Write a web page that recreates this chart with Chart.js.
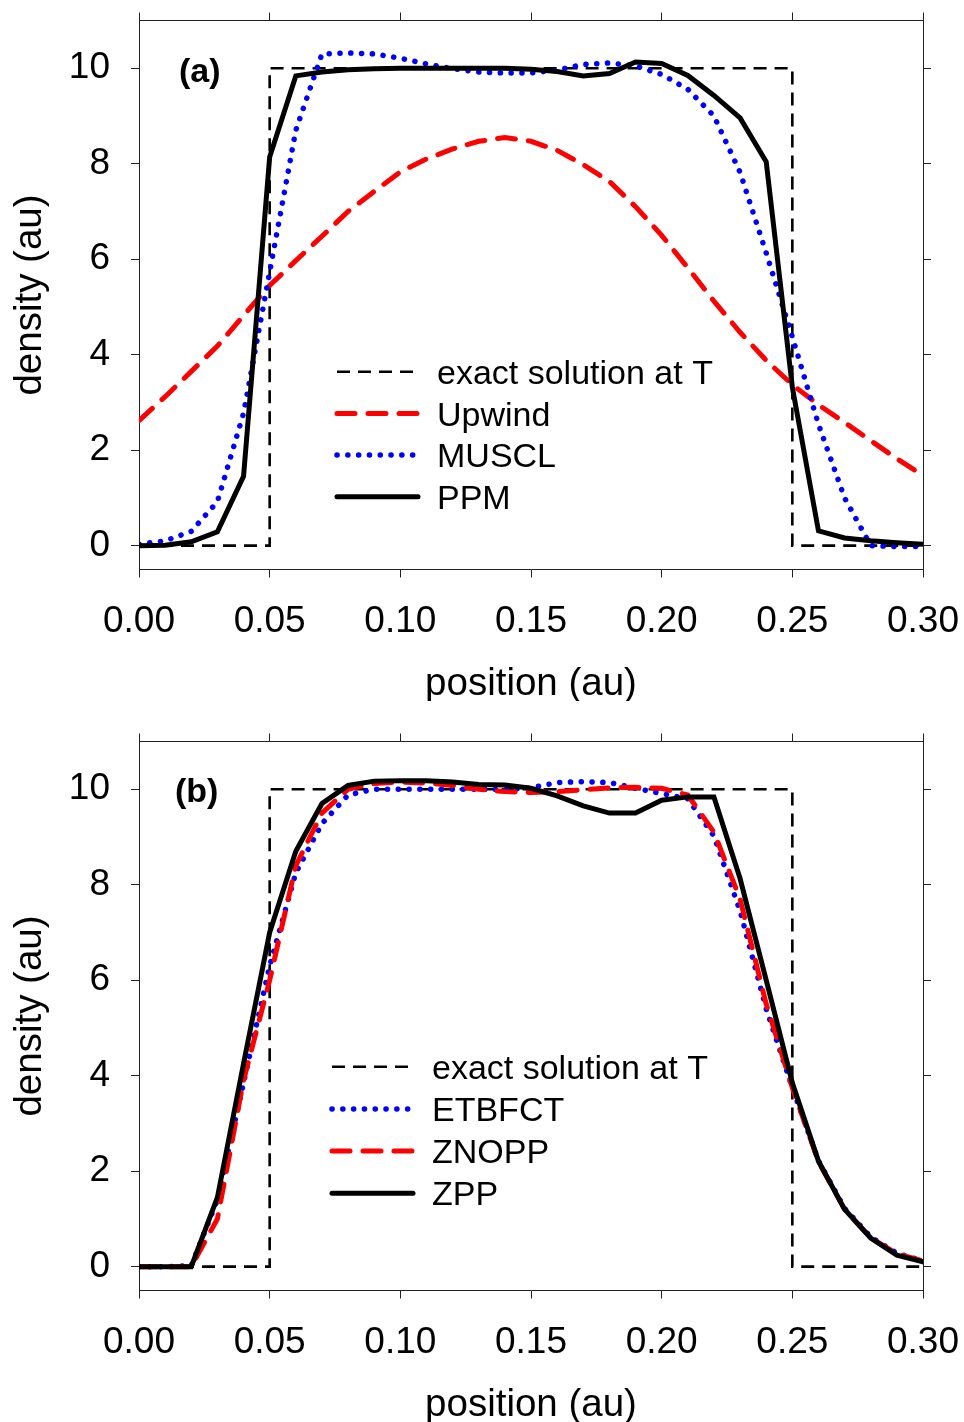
<!DOCTYPE html>
<html>
<head>
<meta charset="utf-8">
<script src="https://cdn.jsdelivr.net/npm/chart.js@4.4.0/dist/chart.umd.min.js"></script>
<style>
  html, body { margin: 0; padding: 0; background: #fff; }
  body { width: 964px; height: 1422px; position: relative; overflow: hidden; }
  .panel { position: absolute; left: 0; width: 964px; height: 701px; }
  #panel-a { top: 0; }
  #panel-b { top: 721px; }
</style>
</head>
<body>
<div class="panel" id="panel-a"><canvas id="chart-a"></canvas></div>
<div class="panel" id="panel-b"><canvas id="chart-b"></canvas></div>
<script>
// grid positions (au)
const POSITIONS = [0, 0.01, 0.02, 0.03, 0.04, 0.05, 0.06, 0.07, 0.08, 0.09, 0.10,
  0.11, 0.12, 0.13, 0.14, 0.15, 0.16, 0.17, 0.18, 0.19, 0.20,
  0.21, 0.22, 0.23, 0.24, 0.25, 0.26, 0.27, 0.28, 0.29, 0.30];

const EXACT_X = [0, 0.05, 0.05, 0.25, 0.25, 0.30];
const EXACT_Y = [0, 0, 10, 10, 0, 0];

// panel (a)
const UPWIND = [2.62, 3.12, 3.65, 4.18, 4.82, 5.45, 5.97, 6.48, 7.0, 7.42, 7.83,
  8.10, 8.31, 8.47, 8.55, 8.47, 8.28, 7.98, 7.63, 7.1, 6.5,
  5.82, 5.12, 4.47, 3.88, 3.37, 2.95, 2.58, 2.2, 1.82, 1.47];
const MUSCL = [0.03, 0.10, 0.30, 0.92, 2.77, 5.73, 8.70, 10.30, 10.32, 10.30, 10.21,
  10.09, 9.99, 9.92, 9.90, 9.90, 9.96, 10.08, 10.11, 10.05, 9.87,
  9.56, 9.0, 7.82, 6.13, 4.37, 2.54, 1.0, 0.0, -0.02, -0.02];
const PPM = [0, 0.01, 0.08, 0.29, 1.45, 8.14, 9.84, 9.92, 9.97, 9.99, 10.0,
  10.0, 10.0, 10.0, 10.0, 9.98, 9.93, 9.84, 9.89, 10.13, 10.1,
  9.85, 9.43, 8.96, 8.04, 3.32, 0.31, 0.16, 0.1, 0.06, 0.03];

// panel (b)
const ETBFCT = [0, 0, 0.02, 1.4, 3.85, 6.3, 8.25, 9.28, 9.88, 10.0, 10.0,
  10.0, 10.0, 10.0, 9.99, 10.03, 10.14, 10.16, 10.14, 10.02, 9.91,
  9.8, 9.02, 7.45, 5.4, 3.75, 2.22, 1.22, 0.62, 0.28, 0.12];
const ZNOPP = [0, 0, 0, 1.0, 3.9, 6.0, 8.4, 9.5, 10.0, 10.12, 10.15,
  10.13, 10.08, 10.0, 9.95, 9.93, 9.95, 9.99, 10.03, 10.04, 10.02,
  9.88, 9.1, 7.7, 5.5, 3.75, 2.2, 1.2, 0.6, 0.27, 0.12];
const ZPP = [0, 0, 0, 1.45, 4.25, 7.0, 8.7, 9.7, 10.08, 10.17, 10.18,
  10.18, 10.15, 10.1, 10.09, 10.02, 9.86, 9.65, 9.5, 9.5, 9.77,
  9.84, 9.84, 8.13, 6.0, 3.85, 2.21, 1.2, 0.6, 0.24, 0.1];

const X_TICKS = [0, 0.05, 0.10, 0.15, 0.20, 0.25, 0.30];
const Y_TICKS = [0, 2, 4, 6, 8, 10];

const FONT = `"Liberation Sans", Arial, sans-serif`;
const AXIS_COLOR = `#222`;

const toPoints = (xs, ys) => xs.map((x, i) => ({x, y: ys[i]}));

const exactStyle = {borderColor: `#000`, borderWidth: 2.6, borderDash: [13, 8], order: 3};
const redDash = {borderColor: `#ff0000`, borderWidth: 5, borderDash: [18, 13], borderCapStyle: `round`};
const blueDots = {borderColor: `#0000ff`, borderWidth: 5.5, borderDash: [0.1, 10.7], borderCapStyle: `round`};
const blackSolid = {borderColor: `#000`, borderWidth: 5, borderCapStyle: `round`, order: 0};

// legend drawn inside the plot, plus the panel tag
const insideLegend = {
  id: `insideLegend`,
  afterDatasetsDraw(chart, args, opts) {
    const {ctx} = chart;
    ctx.save();
    ctx.fillStyle = `#000`;
    ctx.textBaseline = `alphabetic`;
    ctx.font = `${opts.fontSize}px ${FONT}`;
    chart.data.datasets.forEach((ds, i) => {
      const y = opts.y + i * opts.rowHeight;
      ctx.beginPath();
      ctx.setLineDash(ds.borderDash || []);
      ctx.lineWidth = ds.borderWidth;
      ctx.strokeStyle = ds.borderColor;
      ctx.lineCap = ds.borderCapStyle || `butt`;
      ctx.moveTo(opts.x, y);
      ctx.lineTo(opts.x + opts.lineLength, y);
      ctx.stroke();
      ctx.fillText(ds.label, opts.x + opts.lineLength + opts.gap, y + opts.fontSize * 0.358);
    });
    ctx.setLineDash([]);
    ctx.font = `bold ${opts.tagSize}px ${FONT}`;
    ctx.textBaseline = `middle`;
    ctx.fillText(opts.tag, opts.tagX, opts.tagY);
    ctx.restore();
  }
};

const axisGrid = {drawOnChartArea: false, drawTicks: true, tickLength: 8, color: AXIS_COLOR, lineWidth: 1};
const axisBorder = {display: true, color: AXIS_COLOR, width: 1};

// fixed axis sizes, no extra label padding asked from the layout
const fixHeight = (h) => (scale) => {
  scale.height = h;
  scale.paddingLeft = 0;
  scale.paddingRight = 0;
};
const fixWidth = (w) => (scale) => {
  scale.width = w;
  scale.paddingTop = 0;
  scale.paddingBottom = 0;
};

const buildChart = (canvasId, datasets, legend) => new Chart(document.getElementById(canvasId), {
  type: `line`,
  data: {datasets},
  plugins: [insideLegend],
  options: {
    responsive: true,
    maintainAspectRatio: false,
    animation: false,
    devicePixelRatio: 1,
    layout: {padding: {top: 12.5, right: 33, bottom: 0, left: 0}},
    elements: {point: {radius: 0}, line: {tension: 0, fill: false}},
    plugins: {
      legend: {display: false},
      tooltip: {enabled: false},
      insideLegend: legend
    },
    scales: {
      x: {
        type: `linear`,
        position: `bottom`,
        min: 0,
        max: 0.30,
        afterBuildTicks: (scale) => { scale.ticks = X_TICKS.map((value) => ({value})); },
        afterFit: fixHeight(131.5),
        ticks: {
          color: `#000`,
          padding: 26,
          font: {family: FONT, size: 37, lineHeight: 1},
          maxRotation: 0,
          callback: (v) => Number(v).toFixed(2)
        },
        grid: axisGrid,
        border: axisBorder,
        title: {
          display: true,
          text: `position (au)`,
          color: `#000`,
          padding: 0,
          font: {family: FONT, size: 38.5, lineHeight: 0.85}
        }
      },
      xTop: {
        type: `linear`,
        position: `top`,
        min: 0,
        max: 0.30,
        afterBuildTicks: (scale) => { scale.ticks = X_TICKS.map((value) => ({value})); },
        afterFit: fixHeight(8),
        ticks: {display: false},
        grid: axisGrid,
        border: axisBorder
      },
      y: {
        type: `linear`,
        position: `left`,
        min: -0.5,
        max: 11,
        afterBuildTicks: (scale) => { scale.ticks = Y_TICKS.map((value) => ({value})); },
        afterFit: fixWidth(139),
        ticks: {
          color: `#000`,
          padding: 21,
          font: {family: FONT, size: 37, lineHeight: 1},
          callback: (v) => String(v)
        },
        grid: axisGrid,
        border: axisBorder,
        title: {
          display: true,
          text: `density (au)`,
          color: `#000`,
          padding: {top: 12.5, bottom: 0},
          font: {family: FONT, size: 38.5, lineHeight: 0.95}
        }
      },
      yRight: {
        type: `linear`,
        position: `right`,
        min: -0.5,
        max: 11,
        afterBuildTicks: (scale) => { scale.ticks = Y_TICKS.map((value) => ({value})); },
        afterFit: fixWidth(8),
        ticks: {display: false},
        grid: axisGrid,
        border: axisBorder
      }
    }
  }
});

buildChart(`chart-a`, [
  {label: `exact solution at T`, data: toPoints(EXACT_X, EXACT_Y), ...exactStyle},
  {label: `Upwind`, data: toPoints(POSITIONS, UPWIND), ...redDash, order: 2},
  {label: `MUSCL`, data: toPoints(POSITIONS, MUSCL), ...blueDots, order: 1},
  {label: `PPM`, data: toPoints(POSITIONS, PPM), ...blackSolid}
], {x: 337, y: 371.7, rowHeight: 41.7, lineLength: 81, gap: 19, fontSize: 34,
  tag: `(a)`, tagX: 179, tagY: 73, tagSize: 34});

buildChart(`chart-b`, [
  {label: `exact solution at T`, data: toPoints(EXACT_X, EXACT_Y), ...exactStyle},
  {label: `ETBFCT`, data: toPoints(POSITIONS, ETBFCT), ...blueDots, order: 2},
  {label: `ZNOPP`, data: toPoints(POSITIONS, ZNOPP), ...redDash, order: 1},
  {label: `ZPP`, data: toPoints(POSITIONS, ZPP), ...blackSolid}
], {x: 332, y: 345.7, rowHeight: 42.2, lineLength: 81, gap: 19, fontSize: 34,
  tag: `(b)`, tagX: 175, tagY: 71.5, tagSize: 34});
</script>
</body>
</html>
